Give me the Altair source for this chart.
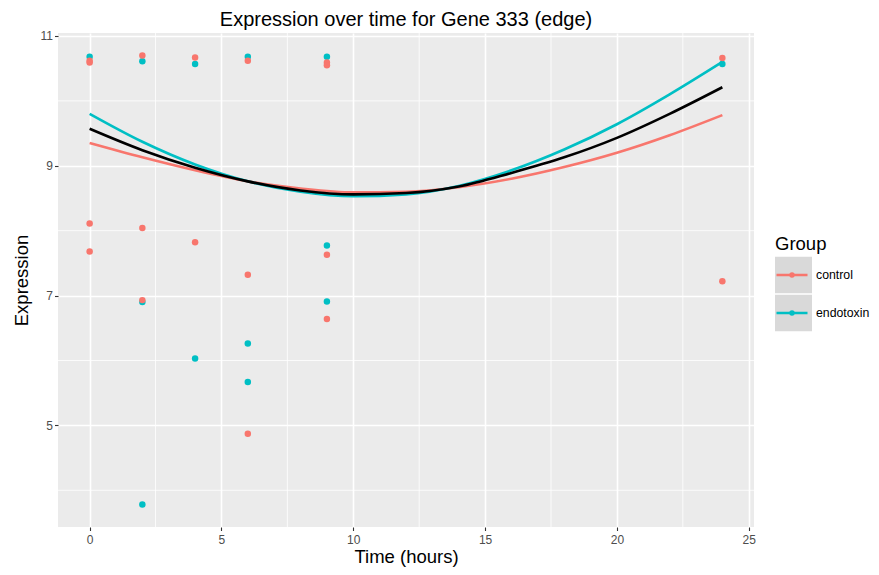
import altair as alt
import pandas as pd

# ---------------- data ----------------
groups = ["control", "endotoxin"]
group_colors = ["#F8766D", "#00BFC4"]
key_fill = "#D9D9D9"

ctrl_time = [0, 0, 0, 0, 2, 2, 2, 4, 4, 6, 6, 6, 9, 9, 9, 9, 24, 24]
ctrl_expr = [10.62, 10.59, 8.11, 7.68, 10.70, 8.04, 6.93, 10.67, 7.82,
             10.62, 7.32, 4.87, 10.59, 10.55, 7.63, 6.64, 10.66, 7.22]
endo_time = [0, 2, 2, 2, 4, 4, 6, 6, 6, 9, 9, 9, 24]
endo_expr = [10.68, 10.61, 6.90, 3.78, 10.57, 6.03, 10.68, 6.26, 5.67,
             10.68, 7.77, 6.91, 10.57]

fit_time = [0, 2, 4, 6, 8, 10, 12, 14, 16, 18, 20, 22, 24]
ctrl_fit = [9.35, 9.13, 8.93, 8.76, 8.65, 8.59, 8.60, 8.67, 8.80, 8.98, 9.20, 9.47, 9.78]
endo_fit = [9.80, 9.37, 9.02, 8.76, 8.60, 8.53, 8.56, 8.69, 8.93, 9.25, 9.64, 10.10, 10.60]
all_fit = [9.57, 9.24, 8.97, 8.76, 8.62, 8.56, 8.58, 8.68, 8.89, 9.13, 9.43, 9.80, 10.21]

x_ticks = [0, 5, 10, 15, 20, 25]
x_minor = [2.5, 7.5, 12.5, 17.5, 22.5]
y_ticks = [5, 7, 9, 11]
y_minor = [4, 6, 8, 10]
x_domain = [-1.2, 25.2]
y_domain = [3.434, 11.046]

title_text = "Expression over time for Gene 333 (edge)"
x_title = "Time (hours)"
y_title = "Expression"
legend_title = "Group"

# ---------------- tables ----------------
pts = pd.DataFrame({
    "time": endo_time + ctrl_time,
    "expr": endo_expr + ctrl_expr,
    "group": ["endotoxin"] * len(endo_time) + ["control"] * len(ctrl_time),
})
n = len(fit_time)
fits = pd.DataFrame({
    "time": fit_time * 2,
    "expr": ctrl_fit + endo_fit,
    "group": ["control"] * n + ["endotoxin"] * n,
})
overall = pd.DataFrame({"time": fit_time, "expr": all_fit})
keys = pd.DataFrame({"slot": ["a", "b"]})

FONT = "Liberation Sans"
LEG_X, LEG_Y = 717, 202

xs = alt.Scale(domain=x_domain, nice=False, zero=False)
ys = alt.Scale(domain=y_domain, nice=False, zero=False)
x_axis = alt.Axis(values=x_ticks, title=x_title, labelPadding=4, titlePadding=2)
y_axis = alt.Axis(values=y_ticks, title=y_title, labelPadding=2, titlePadding=9)

X = lambda f: alt.X(f, scale=xs, axis=x_axis)
Y = lambda f: alt.Y(f, scale=ys, axis=y_axis)

color_enc = alt.Color(
    "group:N",
    scale=alt.Scale(domain=groups, range=group_colors),
    legend=alt.Legend(
        orient="none", legendX=LEG_X, legendY=LEG_Y, padding=0,
        title=" ", titleColor="transparent", titleFont=FONT,
        titleFontSize=18.5, titleFontWeight="normal", titlePadding=3,
        symbolType="M-1.19,-1.19M1.19,1.19M-1,0L1,0M0.1,0A0.1,0.1,0,1,1,-0.1,0A0.1,0.1,0,1,1,0.1,0",
        symbolSize=961, symbolStrokeWidth=2.5, symbolOpacity=1,
        labelFont=FONT, labelFontSize=12.3, labelColor="black", labelOffset=7,
        clipHeight=37, rowPadding=1, zindex=2,
    ),
)

minor_x = alt.Chart(pd.DataFrame({"v": x_minor})).mark_rule(
    color="white", strokeWidth=0.8).encode(x=X("v:Q"))
minor_y = alt.Chart(pd.DataFrame({"v": y_minor})).mark_rule(
    color="white", strokeWidth=0.8).encode(y=Y("v:Q"))

points = alt.Chart(pts).mark_circle(size=42, opacity=1).encode(
    x=X("time:Q"), y=Y("expr:Q"), color=color_enc,
)

lines = alt.Chart(fits).mark_line(strokeWidth=2.6, interpolate="monotone").encode(
    x=X("time:Q"), y=Y("expr:Q"), color=color_enc,
)

black = alt.Chart(overall).mark_line(strokeWidth=2.6, color="black", interpolate="monotone").encode(
    x=X("time:Q"), y=Y("expr:Q"),
)

key_bg = alt.Chart(keys).mark_point(
    filled=True, shape="square", color=key_fill, opacity=1
).encode(
    shape=alt.Shape(
        "slot:N",
        scale=alt.Scale(domain=["a", "b"], range=["square", "square"]),
        legend=alt.Legend(
            orient="none", legendX=LEG_X, legendY=LEG_Y, padding=0,
            title=legend_title, titleColor="black", titleFont=FONT,
            titleFontSize=18.5, titleFontWeight="normal", titlePadding=3,
            symbolSize=1369, symbolFillColor=key_fill, symbolStrokeColor=key_fill,
            symbolStrokeWidth=0, symbolOpacity=1,
            labelFont=FONT, labelFontSize=12.3, labelExpr="''", labelOffset=7,
            clipHeight=37, rowPadding=1, zindex=1,
        ),
    ),
).transform_filter("false")

chart = alt.layer(minor_x, minor_y, points, lines, black, key_bg).properties(
    width=696, height=494,
    autosize=alt.AutoSizeParams(type="none"),
    padding={"left": 50, "top": 25, "right": 117, "bottom": 40},
    background="white",
    view=alt.ViewBackground(fill="#EBEBEB", strokeWidth=0),
    title=alt.TitleParams(
        title_text, font=FONT, fontSize=20, fontWeight="normal", color="black",
        anchor="middle", frame="group", offset=0,
    ),
).configure_view(
    fill="#EBEBEB", strokeWidth=0,
).configure_axis(
    domain=False, grid=True, gridColor="white", gridWidth=1.6,
    tickColor="#333333", tickSize=3.5, tickWidth=1.1,
    labelColor="#4D4D4D", labelFont=FONT, labelFontSize=12,
    titleFont=FONT, titleFontSize=18.5, titleFontWeight="normal", titleColor="black",
)

chart.save("out.html", embed_options={"renderer": "svg", "actions": False})
